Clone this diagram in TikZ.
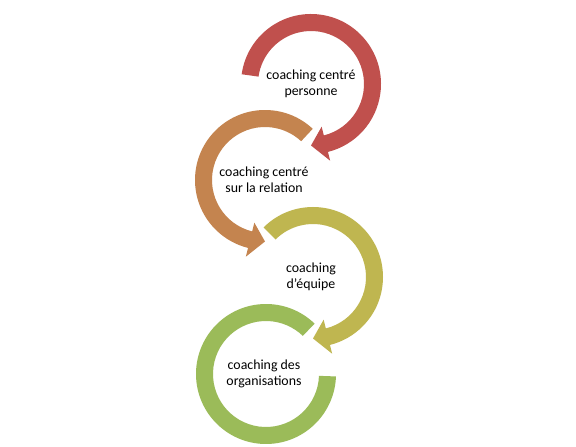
\documentclass[tikz,border=0pt]{standalone}
\usepackage{fontspec}
\setmainfont{Carlito}
\definecolor{cred}{HTML}{C0504D}
\definecolor{corange}{HTML}{C4844F}
\definecolor{colive}{HTML}{BFB650}
\definecolor{cgreen}{HTML}{9BBB59}
\tikzset{
  lbl/.style={font=\fontsize{10.4}{11.8}\selectfont, align=center, text=black, inner sep=0pt},
}
\begin{document}
\begin{tikzpicture}[x=0.75pt,y=0.75pt]
\useasboundingbox (0,0) rectangle (576,447);
\fill[white] (0,0) rectangle (576,447);
% circle 1 (red), clockwise, head at bottom pointing left
\fill[cred, shift={(311,363)}] (172:70) arc[start angle=172,end angle=-76,radius=70]
  -- (-76:79) -- (-90:61.5) -- (-76:44) -- (-76:53)
  arc[start angle=-76,end angle=172,radius=53] -- cycle;
% circle 2 (orange), counter-clockwise, head at bottom pointing right
\fill[corange, shift={(265,267)}] (47:70) arc[start angle=47,end angle=256,radius=70]
  -- (256:79) -- (270:61.5) -- (256:44) -- (256:53)
  arc[start angle=256,end angle=47,radius=53] -- cycle;
% circle 3 (olive), clockwise, head at bottom pointing left
\fill[colive, shift={(313,170)}] (135:70) arc[start angle=135,end angle=-76,radius=70]
  -- (-76:79) -- (-90:61.5) -- (-76:44) -- (-76:53)
  arc[start angle=-76,end angle=135,radius=53] -- cycle;
% circle 4 (green), counter-clockwise, no head
\fill[cgreen, shift={(266,73)}] (46:70) arc[start angle=46,end angle=358,radius=70]
  -- (358:53) arc[start angle=358,end angle=46,radius=53] -- cycle;
% labels
\node[lbl] (t1) at (311,363) {coaching centré\\personne};
\node[lbl] (t2) at (264,267) {coaching centré\\sur la relation};
\node[lbl] (t3) at (311,170) {coaching\\d'équipe};
\node[lbl] (t4) at (264,73) {coaching des\\organisations};
\end{tikzpicture}
\end{document}
